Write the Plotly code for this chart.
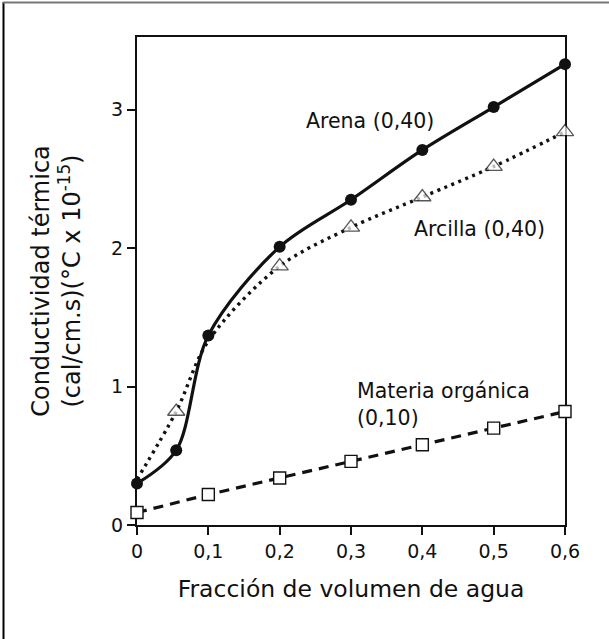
import plotly.graph_objects as go

# Water volume fraction (x) and thermal conductivity (y) for each soil material
arena_x = [0.0, 0.055, 0.10, 0.20, 0.30, 0.40, 0.50, 0.60]
arena_y = [0.30, 0.54, 1.37, 2.01, 2.35, 2.71, 3.02, 3.33]

arcilla_x = [0.0, 0.055, 0.10, 0.20, 0.30, 0.40, 0.50, 0.60]
arcilla_y = [0.33, 0.82, 1.33, 1.87, 2.15, 2.37, 2.59, 2.84]

organica_x = [0.0, 0.10, 0.20, 0.30, 0.40, 0.50, 0.60]
organica_y = [0.09, 0.22, 0.34, 0.46, 0.58, 0.70, 0.82]

x_ticks = [0, 0.1, 0.2, 0.3, 0.4, 0.5, 0.6]
x_tick_labels = ["0", "0,1", "0,2", "0,3", "0,4", "0,5", "0,6"]
y_ticks = [0, 1, 2, 3]
y_tick_labels = ["0", "1", "2", "3"]

FONT = "DejaVu Sans"
INK = "#111111"

W, H = 609, 639
ML, MR, MT, MB = 137, 44, 37, 114

# Arcilla markers at x=0 and x=0.1 sit under the Arena circles
arcilla_sizes = [0 if x in (0.0, 0.10) else 15 for x in arcilla_x]

fig = go.Figure()

fig.add_trace(go.Scatter(
    x=organica_x, y=organica_y, mode="lines+markers",
    line=dict(color=INK, width=3.2, dash="10px,7px"),
    marker=dict(symbol="square", size=12, color="white",
                line=dict(color=INK, width=1.4)),
    cliponaxis=False, showlegend=False,
))

fig.add_trace(go.Scatter(
    x=arcilla_x, y=arcilla_y, mode="lines+markers",
    line=dict(color=INK, width=3.4, dash="3px,4.5px", shape="spline", smoothing=0.9),
    marker=dict(symbol="triangle-up", size=arcilla_sizes, color="white",
                line=dict(color=INK, width=1.3)),
    cliponaxis=False, showlegend=False,
))

fig.add_trace(go.Scatter(
    x=arena_x, y=arena_y, mode="lines+markers",
    line=dict(color=INK, width=3.2, shape="spline", smoothing=0.9),
    marker=dict(symbol="circle", size=12, color=INK),
    cliponaxis=False, showlegend=False,
))

label_font = dict(family=FONT, size=20.5, color=INK)
fig.add_annotation(x=0.326, y=2.92, text="Arena (0,40)", showarrow=False,
                   font=label_font, xanchor="center", yanchor="middle")
fig.add_annotation(x=0.48, y=2.14, text="Arcilla (0,40)", showarrow=False,
                   font=label_font, xanchor="center", yanchor="middle")
fig.add_annotation(x=0.305, y=0.87, text="Materia orgánica<br>(0,10)", showarrow=False,
                   font=label_font, xanchor="left", yanchor="middle", align="left")

# Outer frame lines (left and top edges of the figure)
pw, ph = W - ML - MR, H - MT - MB
def px_x(p):
    return (p - ML) / pw
def px_y(p):
    return (H - MB - p) / ph

fig.add_shape(type="line", xref="paper", yref="paper",
              x0=px_x(3.5), x1=px_x(3.5), y0=px_y(2), y1=px_y(H),
              line=dict(color="#000000", width=2))
fig.add_shape(type="line", xref="paper", yref="paper",
              x0=px_x(3), x1=px_x(W), y0=px_y(2.5), y1=px_y(2.5),
              line=dict(color="#777777", width=2))

axis_common = dict(
    showline=True, linecolor=INK, linewidth=2, mirror=True,
    showgrid=False, zeroline=False, ticks="outside", ticklen=8,
    tickwidth=2, tickcolor=INK, layer="below traces",
    tickfont=dict(family=FONT, size=19, color=INK),
)

fig.update_xaxes(
    range=[0, 0.6], tickvals=x_ticks, ticktext=x_tick_labels,
    title=dict(text="Fracción de volumen de agua", standoff=20,
               font=dict(family=FONT, size=23.5, color=INK)),
    **axis_common,
)
fig.update_yaxes(
    range=[0, 3.526], tickvals=y_ticks, ticktext=y_tick_labels,
    title=dict(text="Conductividad térmica<br>(cal/cm.s)(°C x 10<sup>-15</sup>)",
               standoff=24, font=dict(family=FONT, size=24, color=INK)),
    **axis_common,
)

fig.update_layout(
    width=W, height=H,
    margin=dict(l=ML, r=MR, t=MT, b=MB),
    paper_bgcolor="white", plot_bgcolor="white",
    font=dict(family=FONT, color=INK),
)

fig.write_html("out.html")
